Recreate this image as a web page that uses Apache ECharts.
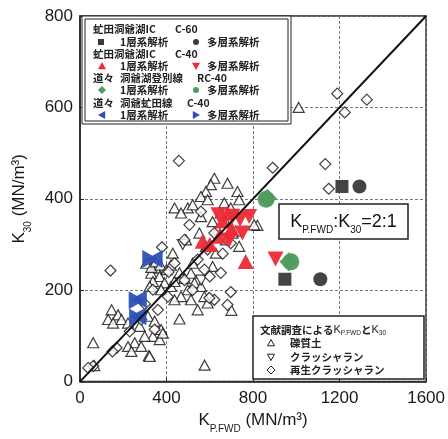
<!DOCTYPE html>
<html>
<head>
<meta charset="utf-8">
<script src="https://cdn.jsdelivr.net/npm/echarts@6/dist/echarts.min.js"></script>
<style>
  html, body { margin: 0; padding: 0; background: #fff; }
  #chart { width: 448px; height: 439px; }
</style>
</head>
<body>
<div id="chart"></div>
<script>
// Axis ranges and ticks
const xTicks = [0, 400, 800, 1200, 1600];
const yTicks = [0, 200, 400, 600, 800];

// Literature survey values [K_P.FWD, K_30]
const gravelSoil = [
  [1011, 600], [61, 85], [66, 35], [319, 57], [576, 36], [460, 137], [700, 156], [820, 342],
  [621, 445], [605, 431], [682, 434], [582, 416], [728, 416], [559, 405], [736, 398], [590, 398],
  [437, 380], [498, 380], [467, 369], [521, 387], [667, 391], [697, 380], [651, 369], [559, 361],
  [613, 350], [674, 350], [636, 332], [720, 329], [805, 343],
  [352, 248], [329, 237], [368, 230], [337, 219], [391, 216], [322, 208], [375, 201], [421, 208],
  [437, 219], [483, 226], [513, 237], [529, 216], [498, 201], [559, 208], [467, 186], [437, 179],
  [513, 179], [575, 186], [590, 172], [544, 157],
  [146, 157], [176, 146], [130, 136], [153, 128], [192, 136], [222, 128], [276, 121], [314, 143],
  [345, 132], [375, 114], [337, 99], [299, 99], [253, 85], [283, 77], [368, 92], [383, 106],
  [222, 77], [238, 66], [322, 55],
  [306, 259], [330, 250], [350, 262], [372, 255], [400, 245], [420, 255],
  [429, 281], [490, 310], [552, 325], [582, 296], [521, 259], [628, 281], [460, 238], [613, 252],
  [674, 310], [705, 325], [736, 296]
];
const crusherRun = [
  [475, 300], [560, 222]
];
const recycledCrusherRun = [
  [1189, 630], [1326, 617], [1224, 589], [457, 483], [891, 468], [1134, 476], [1150, 422],
  [379, 294], [141, 243], [697, 196], [682, 168], [621, 179], [598, 183],
  [483, 310], [506, 343], [559, 372], [621, 325], [590, 289], [544, 267], [575, 245], [651, 238],
  [406, 186], [360, 157], [345, 114], [283, 136], [169, 74], [150, 66], [61, 34], [38, 30],
  [437, 259], [483, 222], [697, 303], [660, 280], [600, 230], [520, 200], [300, 170], [230, 110],
  [337, 201], [410, 240]
];

// Field measurements [K_P.FWD, K_30]
const abutaC60Single = [[1211, 427], [947, 224]];
const abutaC60Multi = [[1292, 427], [1111, 224]];
const abutaC40Single = [[567, 307], [600, 300], [644, 318], [682, 369], [660, 352], [766, 263], [700, 335]];
const abutaC40Multi = [[705, 362], [782, 361], [751, 325], [740, 355], [640, 365], [904, 268], [690, 310]];
const noboribetsuSingle = [[866, 401], [966, 262]];
const noboribetsuMulti = [[860, 399], [975, 262]];
const toyaAbutaSingle = [[345, 268], [272, 180], [270, 143]];
const toyaAbutaMulti = [[325, 268], [262, 178], [264, 140]];

// Reference ratio line K_P.FWD : K_30 = 2 : 1
const ratioLine = [[0, 0], [1600, 800]];

const RED = '#ee2a36', GREEN = '#4f9d5e', BLUE = '#2d4fb6', DARK = '#3a3a3a';
const TRI_UP = 'path://M5,0 L10,9 L0,9 Z';
const TRI_DOWN = 'path://M0,0 L10,0 L5,9 Z';
const TRI_LEFT = 'path://M0,5 L9,0 L9,10 Z';
const TRI_RIGHT = 'path://M0,0 L9,5 L0,10 Z';

function openSeries(name, data, symbol, size) {
  return {
    name, type: 'scatter', data, symbol, symbolSize: size,
    itemStyle: { color: '#fff', borderColor: '#111', borderWidth: 1.2 },
    z: 2, silent: true
  };
}
function filledSeries(name, data, symbol, size, color) {
  return {
    name, type: 'scatter', data, symbol, symbolSize: size,
    itemStyle: { color, opacity: 0.95 }, z: 3, silent: true
  };
}

const FONT = 'Liberation Sans, Arial, sans-serif';
const JP = '"Noto Sans CJK JP", "Noto Sans", sans-serif';

// Top-left legend (text rows and glyph positions)
const legendTxt = { fill: '#222', font: 'bold 10.5px ' + JP, textVerticalAlign: 'middle' };
function txt(x, y, s) {
  return { type: 'text', x, y, style: Object.assign({ text: s }, legendTxt), z: 101 };
}
function mark(kind, cx, cy, color, r, open) {
  const style = open ? { fill: '#fff', stroke: '#222', lineWidth: 1 } : { fill: color };
  let shape, type = 'polygon';
  if (kind === 'square') { type = 'rect'; shape = { x: cx - r, y: cy - r, width: 2 * r, height: 2 * r }; }
  else if (kind === 'circle') { type = 'circle'; shape = { cx, cy, r }; }
  else if (kind === 'up') shape = { points: [[cx, cy - r], [cx + r, cy + r * 0.8], [cx - r, cy + r * 0.8]] };
  else if (kind === 'down') shape = { points: [[cx - r, cy - r * 0.8], [cx + r, cy - r * 0.8], [cx, cy + r]] };
  else if (kind === 'left') shape = { points: [[cx - r, cy], [cx + r * 0.8, cy - r], [cx + r * 0.8, cy + r]] };
  else if (kind === 'right') shape = { points: [[cx + r, cy], [cx - r * 0.8, cy - r], [cx - r * 0.8, cy + r]] };
  else if (kind === 'diamond') shape = { points: [[cx, cy - r], [cx + r, cy], [cx, cy + r], [cx - r, cy]] };
  return { type, shape, style, z: 101 };
}

const rowY = [29, 42, 54, 66, 78, 90, 103, 115];
const topLegend = [
  { type: 'rect', shape: { x: 82, y: 16, width: 209, height: 108 }, style: { fill: '#fff', stroke: '#222', lineWidth: 1 }, z: 100 },
  { type: 'rect', shape: { x: 85, y: 19, width: 203, height: 102 }, style: { fill: 'none', stroke: '#222', lineWidth: 1 }, z: 100 },
  txt(93, rowY[0], '虻田洞爺湖IC'), txt(175, rowY[0], 'C-60'),
  mark('square', 101, rowY[1], DARK, 3), txt(120, rowY[1], '1層系解析'),
  mark('circle', 196, rowY[1], DARK, 3), txt(207, rowY[1], '多層系解析'),
  txt(93, rowY[2], '虻田洞爺湖IC'), txt(175, rowY[2], 'C-40'),
  mark('up', 102, rowY[3], RED, 4), txt(120, rowY[3], '1層系解析'),
  mark('down', 196, rowY[3], RED, 4), txt(207, rowY[3], '多層系解析'),
  txt(93, rowY[4], '道々'), txt(120, rowY[4], '洞爺湖登別線'), txt(197, rowY[4], 'RC-40'),
  mark('diamond', 102, rowY[5], GREEN, 4), txt(120, rowY[5], '1層系解析'),
  mark('circle', 196, rowY[5], GREEN, 3), txt(207, rowY[5], '多層系解析'),
  txt(93, rowY[6], '道々'), txt(120, rowY[6], '洞爺虻田線'), txt(187, rowY[6], 'C-40'),
  mark('left', 102, rowY[7], BLUE, 4), txt(120, rowY[7], '1層系解析'),
  mark('right', 196, rowY[7], BLUE, 4), txt(207, rowY[7], '多層系解析')
];

// Bottom-right legend for the literature survey
const subRich = {
  k: { fontSize: 11, fontFamily: FONT, fill: '#222', lineHeight: 14 },
  j: { fontSize: 10.5, fontFamily: JP, fontWeight: 'bold', fill: '#222', lineHeight: 14 },
  s: { fontSize: 6.5, fontFamily: FONT, fill: '#222', lineHeight: 14, verticalAlign: 'bottom', padding: [0, 0, 0, 0] }
};
const bottomLegend = [
  { type: 'rect', shape: { x: 253, y: 316, width: 171, height: 63 }, style: { fill: '#fff', stroke: '#222', lineWidth: 1.5 }, z: 100 },
  { type: 'text', x: 260, y: 330, z: 101, style: { text: '{j|文献調査による}{k|K}{s|P.FWD}{j|と}{k|K}{s|30}', rich: subRich, textVerticalAlign: 'middle' } },
  mark('up', 271, 343, null, 3.5, true), txt(290, 343, '礫質土'),
  mark('down', 271, 357, null, 3.5, true), txt(290, 357, 'クラッシャラン'),
  mark('diamond', 271, 370, null, 4, true), txt(290, 370, '再生クラッシャラン')
];

// Ratio annotation box
const ratioBox = [
  { type: 'rect', shape: { x: 279, y: 204, width: 129, height: 35 }, style: { fill: '#fff', stroke: '#222', lineWidth: 1.5 }, z: 100 },
  { type: 'text', x: 343.5, y: 222, z: 101, style: {
      text: '{k|K}{s|P.FWD}{k|:K}{s|30}{k|=2:1}',
      textAlign: 'center', textVerticalAlign: 'middle',
      rich: {
        k: { fontSize: 18, fontFamily: FONT, fill: '#111', lineHeight: 22 },
        s: { fontSize: 10, fontFamily: FONT, fill: '#111', lineHeight: 22, verticalAlign: 'bottom', padding: [0, 0, -2, 0] }
      } } }
];

const axisRich = {
  k: { fontSize: 17, fontFamily: FONT, color: '#1a1a1a', lineHeight: 22 },
  s: { fontSize: 10, fontFamily: FONT, color: '#1a1a1a', lineHeight: 22, verticalAlign: 'bottom', padding: [0, 0, -3, 0] }
};
const plainNumber = v => String(v);

const chart = echarts.init(document.getElementById('chart'), null, { renderer: 'canvas' });
chart.setOption({
  animation: false,
  backgroundColor: '#fff',
  grid: { left: 80, right: 20, top: 16, bottom: 57, show: true, borderColor: '#222', borderWidth: 1.5, backgroundColor: 'transparent' },
  xAxis: {
    type: 'value', min: xTicks[0], max: xTicks[xTicks.length - 1], interval: xTicks[1] - xTicks[0],
    axisLine: { show: true, lineStyle: { color: '#222', width: 1.5 } },
    axisTick: { show: true, inside: true, length: 4, lineStyle: { color: '#222' } },
    axisLabel: { fontSize: 17, fontFamily: FONT, color: '#1a1a1a', margin: 8, formatter: plainNumber },
    splitLine: { show: true, lineStyle: { color: '#777', type: [3, 2], width: 1 } },
    name: '{k|K}{s|P.FWD}{k| (MN/m³)}', nameLocation: 'middle', nameGap: 27,
    nameTextStyle: { rich: axisRich }
  },
  yAxis: {
    type: 'value', min: yTicks[0], max: yTicks[yTicks.length - 1], interval: yTicks[1] - yTicks[0],
    axisLine: { show: true, lineStyle: { color: '#222', width: 1.5 } },
    axisTick: { show: true, inside: true, length: 4, lineStyle: { color: '#222' } },
    axisLabel: { fontSize: 17, fontFamily: FONT, color: '#1a1a1a', margin: 7, formatter: plainNumber },
    splitLine: { show: true, lineStyle: { color: '#777', type: [3, 2], width: 1 } },
    name: '{k|K}{s|30}{k| (MN/m³)}', nameLocation: 'middle', nameGap: 40, nameRotate: 90,
    nameTextStyle: { rich: axisRich }
  },
  series: [
    openSeries('礫質土', gravelSoil, TRI_UP, [11, 10]),
    openSeries('クラッシャラン', crusherRun, TRI_DOWN, [11, 10]),
    openSeries('再生クラッシャラン', recycledCrusherRun, 'diamond', 11),
    filledSeries('C-40 1層系', abutaC40Single, TRI_UP, [16, 15], RED),
    filledSeries('C-40 多層系', abutaC40Multi, TRI_DOWN, [16, 15], RED),
    filledSeries('C-60 1層系', abutaC60Single, 'rect', 13, DARK),
    filledSeries('C-60 多層系', abutaC60Multi, 'circle', 14, DARK),
    filledSeries('RC-40 1層系', noboribetsuSingle, 'diamond', 19, GREEN),
    filledSeries('RC-40 多層系', noboribetsuMulti, 'circle', 17, GREEN),
    filledSeries('洞爺虻田線 1層系', toyaAbutaSingle, TRI_LEFT, [16, 18], BLUE),
    filledSeries('洞爺虻田線 多層系', toyaAbutaMulti, TRI_RIGHT, [16, 18], BLUE),
    {
      name: '2:1', type: 'line', data: ratioLine, symbol: 'none', silent: true, z: 5,
      lineStyle: { color: '#111', width: 2 }
    }
  ],
  graphic: [].concat(topLegend, bottomLegend, ratioBox)
});
</script>
</body>
</html>
